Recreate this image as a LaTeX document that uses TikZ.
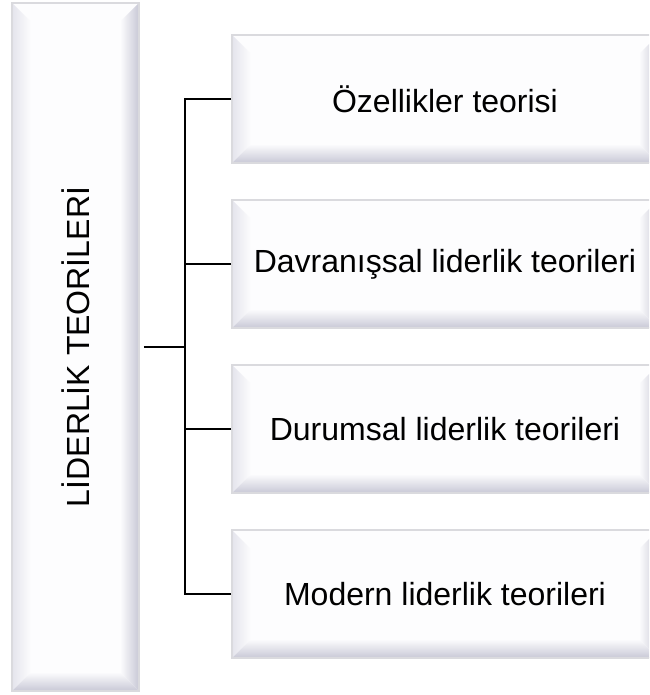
\documentclass[tikz,border=0pt]{standalone}
\usepackage{fontspec}
\setmainfont{Liberation Sans}
\usetikzlibrary{calc}

\definecolor{face}{RGB}{253,253,254}
\definecolor{rim}{RGB}{218,218,222}
\definecolor{shadow}{RGB}{200,200,214}
\definecolor{lightshadow}{RGB}{228,228,236}

\tikzset{
  bevelbox/.style={
    rectangle, inner sep=0pt, fill=face, draw=rim, line width=1.6pt,
    font=\fontsize{32}{38}\selectfont, align=center,
    path picture={
      \coordinate (pp-ne) at (path picture bounding box.north east);
      \coordinate (pp-se) at (path picture bounding box.south east);
      \coordinate (pp-sw) at (path picture bounding box.south west);
      \coordinate (pp-nw) at (path picture bounding box.north west);
      % left bevel, faintly shaded
      \shade[left color=lightshadow, right color=face]
        (pp-nw) -- (pp-sw) -- ($(pp-sw)+(19pt,19pt)$) -- ($(pp-nw)+(19pt,-19pt)$) -- cycle;
      % bottom bevel
      \shade[top color=face, bottom color=shadow]
        (pp-sw) -- (pp-se) -- ($(pp-se)+(-19pt,19pt)$) -- ($(pp-sw)+(19pt,19pt)$) -- cycle;
      % right bevel
      \shade[left color=face, right color=shadow]
        (pp-ne) -- (pp-se) -- ($(pp-se)+(-19pt,19pt)$) -- ($(pp-ne)+(-19pt,-19pt)$) -- cycle;
    }
  },
  conn/.style={draw=black, line width=2.3pt}
}

\begin{document}
\begin{tikzpicture}[x=1pt, y=-1pt]
  \useasboundingbox (0,0) rectangle (649,695);
  \fill[white] (0,0) rectangle (649,695);

  % root box with vertical title
  \node[bevelbox, minimum width=127pt, minimum height=688pt] (root) at (75.5,347)
    {\rotatebox{90}{LİDERLİK TEORİLERİ}};

  % branch boxes
  \begin{scope}
    \clip (0,0) rectangle (649,695);
    \node[bevelbox, minimum width=426pt, minimum height=128pt] (b1) at (445,99)  {Özellikler teorisi};
    \node[bevelbox, minimum width=426pt, minimum height=128pt] (b2) at (445,264) {Davranışsal liderlik teorileri};
    \node[bevelbox, minimum width=426pt, minimum height=128pt] (b3) at (445,429) {Durumsal liderlik teorileri};
    \node[bevelbox, minimum width=426pt, minimum height=128pt] (b4) at (445,594) {Modern liderlik teorileri};
  \end{scope}

  % connectors
  \coordinate (hub) at (185,347);
  \draw[conn] ([xshift=4pt]root.east) -- (hub);
  \draw[conn] (b1.west) -| (hub);
  \draw[conn] (b2.west) -| (hub);
  \draw[conn] (b3.west) -| (hub);
  \draw[conn] (b4.west) -| (hub);
\end{tikzpicture}
\end{document}
